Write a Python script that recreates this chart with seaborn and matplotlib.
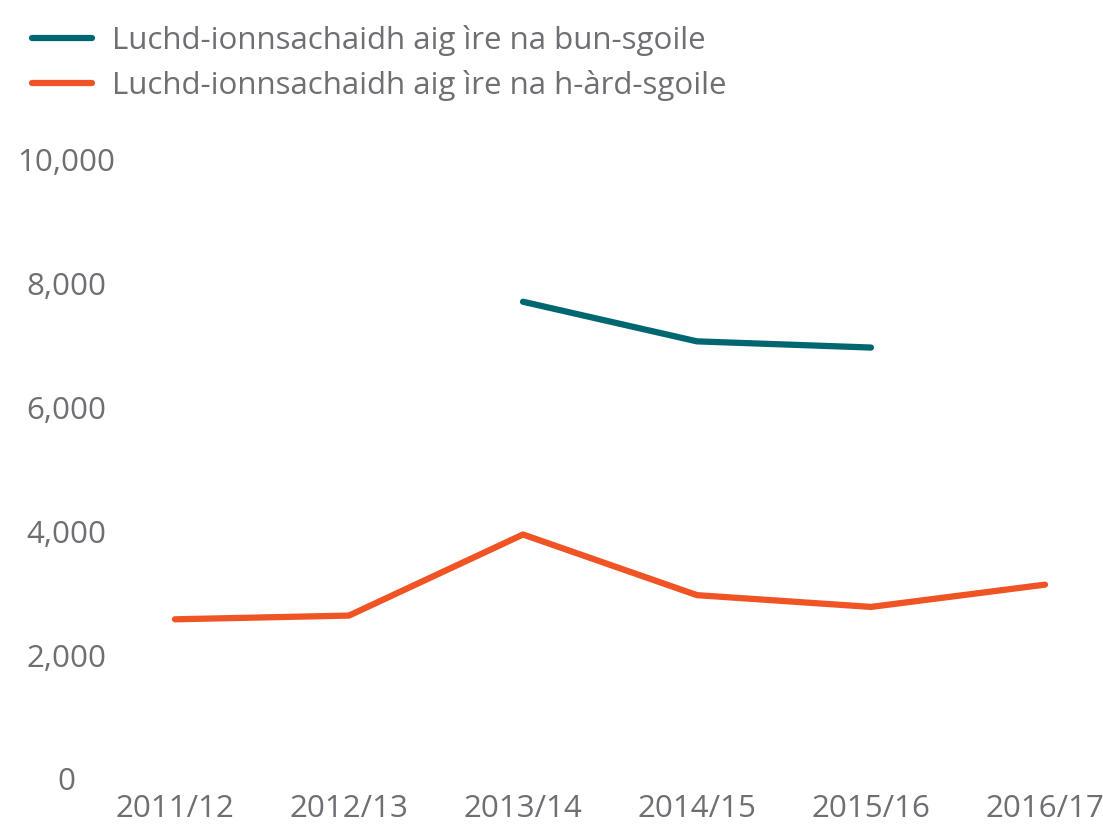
import pandas as pd
import numpy as np
import matplotlib
matplotlib.use("Agg")
import matplotlib.pyplot as plt
import seaborn as sns

# Data
years = ["2011/12", "2012/13", "2013/14", "2014/15", "2015/16", "2016/17"]
primary = [np.nan, np.nan, 7710, 7070, 6970, np.nan]
secondary = [2580, 2640, 3950, 2970, 2780, 3140]
series_names = [
    "Luchd-ionnsachaidh aig ìre na bun-sgoile",
    "Luchd-ionnsachaidh aig ìre na h-àrd-sgoile",
]
yticks = [0, 2000, 4000, 6000, 8000, 10000]

colors = ["#00666f", "#f05324"]
text_col = "#6e6e73"
fs = 22.5

x_idx = list(range(len(years)))
df = pd.concat([
    pd.DataFrame({"x": x_idx, "value": primary, "series": series_names[0]}),
    pd.DataFrame({"x": x_idx, "value": secondary, "series": series_names[1]}),
])

sns.set_style("white")
plt.rcParams["font.family"] = ["Open Sans", "DejaVu Sans"]

fig = plt.figure(figsize=(11.03, 8.26), dpi=100)
ax = fig.add_axes([130 / 1103, 47 / 826, 970 / 1103, 619 / 826])

sns.lineplot(data=df.dropna(), x="x", y="value", hue="series",
             hue_order=series_names, palette=colors, linewidth=4.5,
             solid_capstyle="round", ax=ax)

ax.set_xlim(-45 / 174, 5 + 55 / 174)
ax.set_ylim(0, 10000)
ax.set_xticks(x_idx)
ax.set_xticklabels(years)
ax.set_yticks(yticks)
ax.set_yticklabels([f"{v:,}" for v in yticks])
ax.set_xlabel("")
ax.set_ylabel("")
for s in ax.spines.values():
    s.set_visible(False)
ax.tick_params(axis="both", length=0, labelsize=fs, labelcolor=text_col)
ax.tick_params(axis="y", pad=46)
ax.tick_params(axis="x", pad=11)
for lbl in ax.get_yticklabels():
    lbl.set_horizontalalignment("center")
ax.grid(False)

leg = ax.legend(loc="upper left", bbox_to_anchor=(32 / 1103, 1 - 25 / 826),
                bbox_transform=fig.transFigure, frameon=False, fontsize=fs,
                handlelength=1.92, handletextpad=0.64, labelspacing=0.45,
                borderpad=0, borderaxespad=0)
for t in leg.get_texts():
    t.set_color(text_col)
for h in leg.get_lines():
    h.set_linewidth(4.5)
    h.set_solid_capstyle("round")

fig.savefig("out.png", dpi=100)
